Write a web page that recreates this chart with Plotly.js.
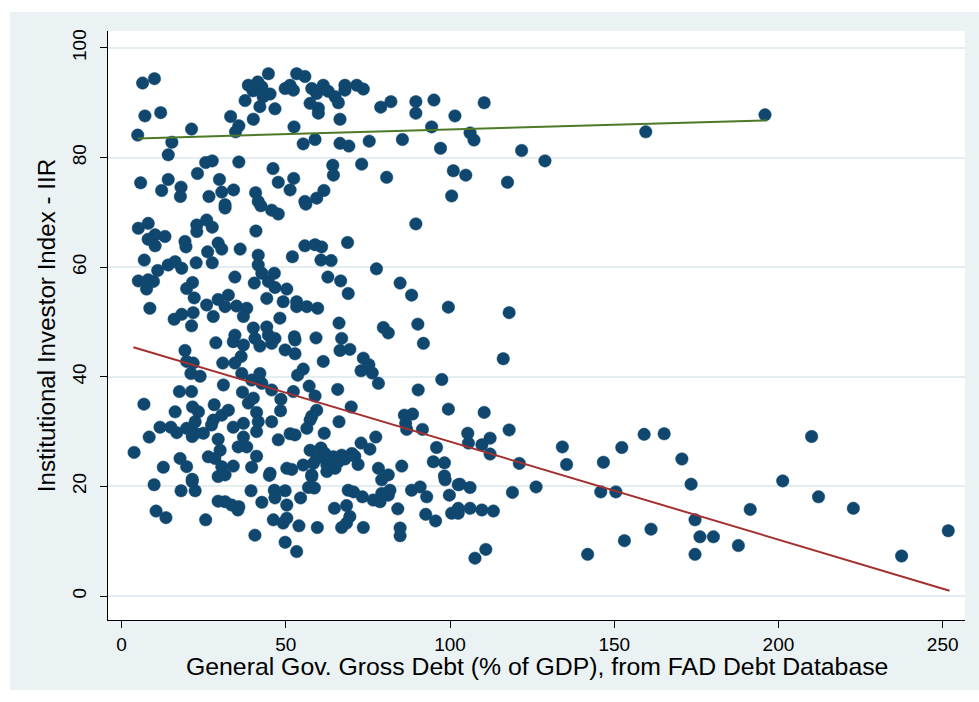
<!DOCTYPE html>
<html>
<head>
<meta charset="utf-8">
<script src="https://cdn.plot.ly/plotly-3.0.1.min.js"></script>
<style>
html,body{margin:0;padding:0;background:#ffffff;width:979px;height:702px;overflow:hidden;}
#chart{position:absolute;left:10px;top:12px;width:969px;height:678px;}
</style>
</head>
<body>
<div id="chart"></div>
<script>
// Scatter points: General Gov. Gross Debt (% of GDP) vs Institutional Investor Index
const debtX = [
6.4,10.0,7.1,11.9,4.9,21.3,15.3,14.2,5.8,12.2,14.2,18.1,17.9,23.1,25.6,27.6,35.7,29.8,30.5,34.1,26.6,40.8,46.1,47.7,
44.7,38.6,42.7,43.1,37.6,42.1,46.7,40.1,33.2,35.7,34.7,49.8,41.5,40.0,45.2,53.3,55.8,51.3,52.3,57.9,59.4,61.4,62.9,65.0,
68.0,68.0,71.6,73.6,57.4,59.9,59.9,66.0,66.5,52.5,78.9,82.0,89.6,89.6,95.1,101.5,94.4,55.3,58.9,66.5,69.2,75.4,85.5,97.1,
64.3,64.5,73.1,80.7,52.4,51.3,61.6,59.4,55.8,101.0,100.5,110.4,106.1,107.3,121.8,128.9,159.6,104.8,117.5,195.9,31.5,41.6,
118.0,116.2,89.6,5.1,8.1,10.2,8.1,13.2,10.2,6.9,11.0,5.1,8.1,7.6,9.7,8.6,14.2,16.3,18.3,22.7,27.6,19.3,19.6,22.9,22.9,
25.9,27.6,31.5,26.2,29.4,30.5,36.1,40.9,34.5,21.6,19.8,22.1,25.9,29.4,32.5,31.5,35.0,38.1,37.1,27.9,16.0,18.3,21.8,21.3,
34.5,40.1,44.2,46.7,41.6,41.6,42.7,40.4,46.5,44.7,46.7,44.2,49.2,48.2,42.4,45.7,47.7,40.6,44.7,56.1,68.8,52.0,55.8,58.9,
60.9,60.7,63.8,77.6,62.8,66.7,69.0,84.8,88.3,99.5,50.3,53.3,53.3,56.4,59.7,66.2,79.7,81.2,90.2,52.6,59.2,67.0,91.9,
19.3,19.8,21.8,21.1,23.9,28.7,34.0,37.1,42.1,45.7,49.8,36.4,34.5,30.8,36.6,39.6,42.1,42.7,45.7,31.0,17.6,21.3,36.8,6.8,
16.3,21.6,23.4,28.2,32.5,30.5,38.6,40.1,48.5,48.4,41.1,41.6,45.7,22.4,27.9,11.7,15.0,16.8,19.8,22.4,24.9,21.5,27.4,34.0,
37.1,41.1,8.4,29.4,37.1,47.7,3.8,17.8,19.8,12.7,26.4,28.4,30.0,30.5,34.0,35.5,38.1,41.1,39.6,45.2,50.3,21.5,
52.8,66.5,69.5,52.8,61.4,73.6,75.3,72.9,76.3,55.3,53.6,78.2,97.5,90.3,57.1,65.8,52.3,58.9,69.9,59.4,57.9,57.4,66.2,99.5,
86.1,88.6,86.5,86.8,91.6,56.4,61.7,51.3,52.8,77.4,95.9,72.9,75.6,57.4,60.7,61.9,64.5,67.0,70.1,59.4,58.4,62.5,65.0,55.3,
51.8,57.9,62.5,78.2,81.2,85.3,94.9,98.3,98.3,63.0,66.0,68.0,71.0,72.0,
110.4,105.4,105.6,109.7,112.2,112.2,118.0,121.1,134.2,135.5,146.7,152.3,159.1,165.2,170.6,173.4,174.6,176.1,174.6,145.9,
150.5,161.2,153.1,141.9,126.2,119.0,103.0,106.1,102.5,106.1,109.7,113.2,107.6,110.9,
210.1,201.3,212.2,191.4,222.8,180.2,187.8,237.5,251.7,
9.9,18.1,21.5,22.4,10.5,13.5,25.6,29.4,31.5,33.5,35.7,35.4,29.4,31.5,39.4,42.7,40.6,46.5,46.7,49.8,46.2,49.2,50.3,49.8,45.0,
50.3,53.3,54.0,54.5,56.9,58.7,57.9,59.6,64.8,68.5,69.0,70.6,69.5,68.5,67.0,73.6,73.3,76.6,78.7,79.2,81.2,81.7,79.2,84.1,
84.8,84.8,88.3,90.9,92.9,92.6,95.6,98.5,99.8,100.5,102.5,102.5
];
const iirY = [
93.6,94.4,87.6,88.2,84.1,85.2,82.8,80.5,75.4,74.0,76.0,74.6,72.9,77.1,79.1,79.4,79.2,76.0,73.7,74.1,72.9,73.6,78.0,75.5,
95.3,93.2,92.9,91.1,90.4,89.3,88.9,87.0,87.5,85.8,84.7,92.6,93.8,92.2,91.6,95.3,94.8,93.2,92.3,92.6,91.7,93.2,92.1,91.1,
93.2,92.3,93.2,92.5,89.9,89.0,88.1,90.0,87.0,85.6,89.2,90.2,90.2,88.1,90.5,87.6,85.6,82.5,83.3,82.6,82.1,83.0,83.3,81.7,
78.6,76.8,78.8,76.4,76.2,74.1,74.0,72.6,72.0,77.6,73.0,90.0,84.5,83.2,81.3,79.4,84.7,76.8,75.5,87.8,71.4,72.0,
51.7,43.3,67.9,67.1,68.0,65.9,65.1,65.6,63.9,61.3,59.4,57.5,57.7,56.0,57.4,52.5,60.4,61.0,59.8,60.8,60.8,64.7,63.7,67.7,66.5,
68.6,67.3,70.8,62.8,64.4,63.3,63.3,66.6,58.2,57.2,56.1,54.4,53.1,54.1,54.9,52.8,52.9,52.5,51.0,51.0,50.5,51.4,51.7,49.3,
47.6,48.9,49.1,47.0,62.2,60.4,58.9,57.1,58.9,57.4,56.3,54.3,53.7,50.7,71.2,70.4,69.7,47.0,47.6,71.5,64.5,61.9,63.9,64.1,
63.7,61.3,61.2,59.7,58.2,57.5,55.2,57.1,54.9,52.7,56.0,53.7,52.8,52.8,52.5,49.8,49.0,48.0,49.6,47.3,47.1,47.0,46.1,
44.8,42.8,42.5,40.6,40.1,46.2,46.4,45.8,45.6,46.1,44.9,43.7,42.5,42.5,40.6,39.4,40.6,38.8,37.6,38.5,37.3,37.3,37.2,35.0,
33.6,34.5,33.6,34.9,33.9,33.0,35.2,36.1,35.9,33.8,33.5,31.8,31.8,31.8,32.1,30.8,30.8,29.8,30.6,29.7,29.7,29.1,31.2,30.8,
31.5,30.0,29.0,28.6,29.0,28.5,26.2,25.1,23.6,23.5,25.4,25.1,26.6,23.6,23.7,27.2,27.2,25.5,23.5,22.4,23.3,21.3,
46.7,44.8,45.0,44.2,42.8,43.4,42.2,41.1,40.7,41.4,40.3,38.8,39.5,37.6,38.3,37.7,37.3,36.5,34.5,33.9,32.8,32.1,31.8,34.1,
33.0,33.2,31.5,30.4,30.4,30.6,29.7,29.6,29.4,29.0,27.1,27.9,26.8,26.6,27.0,26.0,25.4,25.7,26.0,25.1,24.2,23.9,23.3,23.9,
23.1,22.1,22.7,23.3,22.1,23.7,24.5,24.3,21.9,25.0,24.5,25.0,25.5,24.0,
33.5,29.7,27.9,27.6,28.8,25.9,30.3,24.2,27.2,24.0,24.4,27.1,29.5,29.6,25.0,20.4,13.9,10.8,7.6,19.0,
19.0,12.2,10.1,7.6,19.9,18.9,20.4,19.8,16.0,16.0,15.7,15.5,6.9,8.5,
29.1,21.0,18.1,15.8,16.0,10.8,9.2,7.3,11.9,
20.3,19.2,20.9,19.2,15.5,14.3,13.9,17.3,17.2,16.6,16.3,15.7,21.8,22.1,19.2,17.1,11.1,19.3,17.9,19.2,13.9,13.3,16.6,9.8,22.0,
14.2,8.1,12.8,17.9,19.8,19.7,21.8,12.5,16.0,16.5,19.3,19.0,14.5,13.3,12.5,12.5,18.1,17.5,17.2,18.7,18.4,19.3,21.2,15.9,
12.4,11.0,19.3,19.9,18.1,14.9,13.7,21.2,18.4,15.1,15.1,20.3
];
// Fitted lines (two groups)
const fitHighX = [4.9, 196.5];
const fitHighY = [83.5, 86.8];
const fitLowX = [3.6, 252.1];
const fitLowY = [45.4, 0.97];

const xTicks = [0, 50, 100, 150, 200, 250];
const yTicks = [0, 20, 40, 60, 80, 100];
const xTitle = 'General Gov. Gross Debt (% of GDP), from FAD Debt Database';
const yTitle = 'Institutional Investor Index - IIR';

const FONT = 'Arial, "Liberation Sans", sans-serif';

const traces = [
  {type:'scatter', mode:'markers', x:debtX, y:iirY,
   marker:{color:'#0F476F', size:12.5, line:{color:'#0F476F', width:0.5}},
   hoverinfo:'skip', showlegend:false},
  {type:'scatter', mode:'lines', x:fitHighX, y:fitHighY,
   line:{color:'#4E7A28', width:2}, showlegend:false},
  {type:'scatter', mode:'lines', x:fitLowX, y:fitLowY,
   line:{color:'#A3302F', width:2}, showlegend:false}
];

const layout = {
  width:969, height:678,
  margin:{l:98, r:14, t:19, b:70},
  paper_bgcolor:'#EAF2F3',
  plot_bgcolor:'#FFFFFF',
  font:{family:FONT, color:'#000000'},
  showlegend:false,
  xaxis:{
    range:[-4.14, 256.8],
    tickvals:xTicks, ticktext:xTicks.map(String),
    ticks:'outside', ticklen:7, tickwidth:1, tickcolor:'#000000',
    showline:true, linecolor:'#000000', linewidth:1,
    showgrid:false, zeroline:false,
    tickfont:{size:19, family:FONT}
  },
  yaxis:{
    range:[-4.38, 103.1],
    tickvals:yTicks, ticktext:yTicks.map(String),
    tickangle:-90,
    ticks:'outside', ticklen:7, tickwidth:1, tickcolor:'#000000',
    ticklabelstandoff:6,
    showline:true, linecolor:'#000000', linewidth:1,
    showgrid:true, gridcolor:'#E4EDF0', gridwidth:2,
    zeroline:false,
    tickfont:{size:19, family:FONT},
    title:{text:yTitle, font:{size:24.2, family:FONT}, standoff:6}
  },
  annotations:[
    {xref:'paper', yref:'paper', x:0.5, y:-0.079, xanchor:'center', yanchor:'middle',
     text:xTitle, showarrow:false, borderpad:0, font:{size:24.8, family:FONT, color:'#000000'}}
  ]
};

Plotly.newPlot('chart', traces, layout, {displayModeBar:false, staticPlot:true});
</script>
</body>
</html>
